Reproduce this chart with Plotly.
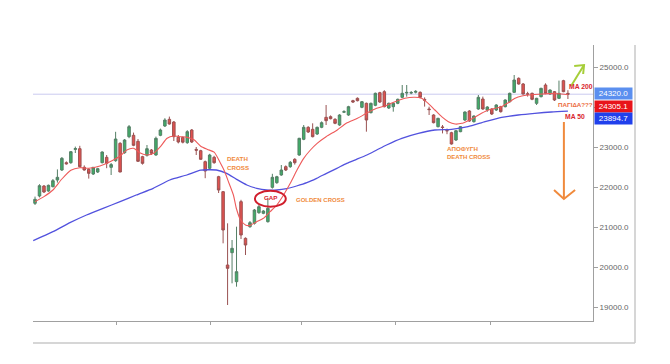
import plotly.graph_objects as go

# ---------------- data ----------------
idx = list(range(120))
opens = [21592, 21775, 22025, 21900, 22008, 22175, 22425, 22608, 22608, 22940,
         22958, 22492, 22442, 22325, 22375, 22608, 22742, 22492, 22658, 23092,
         22858, 23258, 23292, 23142, 22758, 22792, 22925, 22800, 23292, 23525,
         23692, 23625, 23242, 23240, 23108, 23425, 22940, 22908, 22633, 22467,
         22742, 22258, 21883, 20050, 20358, 19633, 21633, 20717, 21008, 21092,
         21358, 21342, 21133, 21992, 22108, 22300, 22508, 22508, 22692, 22800,
         23192, 23492, 23442, 23325, 23492, 23742, 23758, 23692, 23550, 23870,
         23800, 24158, 24217, 23992, 24092, 23858, 24042, 24358, 24383, 23975,
         24008, 24092, 24242, 24350, 24350, 24370, 24367, 24190, 23950, 23800,
         23508, 23500, 23415, 23358, 23175, 23383, 23675, 23900, 23633, 23950,
         24200, 23925, 23950, 23925, 24008, 24008, 24133, 24367, 24717, 24575,
         24330, 24342, 24092, 24258, 24550, 24325, 24383, 24217, 24658, 24340]
highs = [21760, 22070, 22050, 22060, 22200, 22440, 22750, 22640, 22900, 23010,
         23030, 22540, 22470, 22500, 22480, 22890, 22800, 22600, 23380, 23120,
         23200, 23550, 23360, 23200, 22780, 23050, 22950, 23260, 23460, 23720,
         23760, 23650, 23300, 23260, 23420, 23450, 23000, 22930, 22660, 22830,
         22780, 22280, 21900, 21092, 20675, 21008, 21680, 20740, 21150, 21450,
         21550, 21420, 21717, 22330, 22280, 22550, 22540, 22650, 22720, 23230,
         23550, 23520, 23592, 23510, 23640, 24050, 23790, 23720, 23820, 23920,
         24030, 24180, 24240, 24150, 24110, 24110, 24360, 24380, 24420, 24110,
         24110, 24210, 24550, 24550, 24400, 24420, 24390, 24240, 24008, 23820,
         23730, 23550, 23460, 23380, 23420, 23520, 23890, 23920, 23790, 24300,
         24260, 24020, 23970, 24070, 24030, 24190, 24360, 24800, 24740, 24600,
         24380, 24360, 24230, 24480, 24592, 24440, 24400, 24660, 24680, 24420]
lows = [21550, 21740, 21850, 21880, 21990, 22110, 22400, 22560, 22580, 22850,
        22490, 22410, 22210, 22300, 22350, 22590, 22470, 22300, 22630, 22370,
        22830, 23220, 23020, 22630, 22560, 22760, 22800, 22780, 23270, 23500,
        23560, 23150, 23090, 23090, 23080, 23100, 22800, 22680, 22220, 22440,
        22580, 21850, 20592, 19050, 19592, 19508, 20700, 20300, 20980, 21060,
        21330, 21320, 21110, 21960, 22080, 22280, 22400, 22480, 22560, 22780,
        23170, 23350, 23240, 23300, 23470, 23550, 23690, 23570, 23530, 23850,
        23780, 24100, 24140, 23970, 23383, 23840, 24020, 24100, 23990, 23950,
        23883, 24070, 24220, 24258, 24320, 24340, 24220, 24010, 23800, 23590,
        23490, 23340, 23320, 23060, 23150, 23370, 23650, 23630, 23610, 23930,
        23930, 23880, 23800, 23900, 23860, 23990, 24110, 24350, 24560, 24310,
        24260, 24170, 24050, 24240, 24320, 24300, 24150, 24200, 24370, 24200]
closes = [21692, 22033, 21875, 22042, 22158, 22242, 22717, 22580, 22883, 22960,
          22508, 22425, 22342, 22492, 22458, 22875, 22592, 22560, 23200, 22375,
          23175, 23508, 23042, 22642, 22592, 22958, 22842, 23217, 23425, 23675,
          23575, 23258, 23125, 23120, 23383, 23125, 22920, 22692, 22400, 22800,
          22608, 21925, 20925, 19967, 20467, 19883, 20800, 20550, 21108, 21425,
          21508, 21400, 21467, 22242, 22258, 22425, 22425, 22617, 22608, 23217,
          23492, 23375, 23258, 23492, 23608, 23658, 23708, 23592, 23800, 23883,
          24008, 24125, 24158, 24133, 23675, 24092, 24342, 24125, 24008, 24092,
          24092, 24192, 24342, 24365, 24360, 24390, 24242, 24170, 23935, 23608,
          23717, 23490, 23405, 23075, 23408, 23508, 23875, 23650, 23775, 24242,
          23950, 24000, 23825, 24050, 23883, 24175, 24342, 24675, 24575, 24325,
          24320, 24192, 24217, 24467, 24342, 24425, 24175, 24342, 24383, 24320]

# short moving average (red) sampled along the chart
ma_fast_x = [0, 2, 4, 6, 8, 10, 12, 14.5, 17.5, 19, 20.5, 22, 23.5, 25, 26.5, 28,
             29.5, 31, 32.5, 34, 35.5, 37, 38.5, 40, 41.3, 42.3, 43.3, 44.3, 45,
             45.8, 47, 48, 49.5, 51, 52.5, 54, 55.5, 57, 58.5, 60, 61.5, 63, 65,
             67.5, 69.5, 72, 74, 76.3, 78.5, 80.4, 82.6, 84.8, 86.3, 87.8, 89.3,
             90.8, 92.3, 93.8, 95.3, 96.7, 98.2, 99.7, 101.2, 102.7, 104.2,
             105.7, 107.2, 108.7, 110.1, 112.4, 114.6, 116.8, 119]
ma_fast_y = [21633, 21760, 21925, 22200, 22420, 22483, 22470, 22525, 22675, 22775,
             22925, 22967, 22850, 22800, 22842, 23008, 23217, 23275, 23258, 23240,
             23180, 23020, 22940, 22870, 22620, 22400, 22100, 21800, 21450, 21200,
             21050, 21040, 21133, 21217, 21383, 21550, 21800, 22092, 22425, 22717,
             22925, 23092, 23258, 23425, 23592, 23717, 23842, 23967, 24040, 24133,
             24217, 24242, 24217, 24092, 23925, 23758, 23633, 23575, 23592, 23658,
             23742, 23842, 23925, 23967, 24008, 24108, 24217, 24275, 24300, 24320,
             24335, 24330, 24305]

# long moving average (blue)
ma_slow_x = [-0.4, 4, 7.8, 11.5, 15.2, 19, 22.6, 26.4, 30.1, 33.9, 37, 40.5, 42.8,
             45, 47.3, 49.5, 51.7, 54, 56.2, 58.4, 60.7, 62.9, 65.1, 67.4, 69.6,
             71.8, 74.1, 76.3, 78.5, 81.9, 85.6, 89.3, 93, 96.7, 100.5, 104.2,
             107.9, 111.6, 115.3, 119]
ma_slow_y = [20660, 20883, 21108, 21300, 21467, 21633, 21800, 21967, 22175, 22300,
             22420, 22425, 22342, 22192, 22050, 21967, 21925, 21925, 21958, 22025,
             22108, 22217, 22342, 22467, 22592, 22692, 22800, 22925, 23050, 23217,
             23342, 23425, 23442, 23508, 23633, 23742, 23800, 23842, 23875, 23895]

last_price = 24320.0
ma_fast_last = 24305.1
ma_slow_last = 23894.7

y_ticks = [19000, 20000, 21000, 22000, 23000, 24000, 25000]
y_tick_labels = ["19000.0", "20000.0", "21000.0", "22000.0", "23000.0", "24000.0", "25000.0"]
x_ticks = [18.3, 39.2, 59.4, 80.4, 101.6]

# ---------------- figure ----------------
fig = go.Figure()

fig.add_trace(go.Scatter(x=ma_slow_x, y=ma_slow_y, mode="lines",
                         line=dict(color="#5252DE", width=1.3, shape="spline", smoothing=0.6),
                         hoverinfo="skip", showlegend=False))
fig.add_trace(go.Scatter(x=ma_fast_x, y=ma_fast_y, mode="lines",
                         line=dict(color="#EE5A5A", width=1.1, shape="spline", smoothing=0.6),
                         hoverinfo="skip", showlegend=False))

fig.add_trace(go.Candlestick(
    x=idx, open=opens, high=highs, low=lows, close=closes,
    increasing=dict(fillcolor="#3FAE68", line=dict(color="#557F66", width=1)),
    decreasing=dict(fillcolor="#E2514E", line=dict(color="#9A5252", width=1)),
    showlegend=False))

orange = "#F08A3C"
red_txt = "#D9262E"
F = "Liberation Sans, Arial, sans-serif"

annotations = []


def txt(x, y, s, color, size, bold=True, xanchor="left"):
    annotations.append(dict(x=x, y=y, xref="x", yref="y", text=(f"<b>{s}</b>" if bold else s),
                            showarrow=False, xanchor=xanchor, yanchor="middle",
                            font=dict(color=color, size=size, family=F)))


txt(42.4, 22717, "DEATH", orange, 6.2)
txt(42.4, 22492, "CROSS", orange, 6.2)
txt(57.8, 21675, "GOLDEN CROSS", orange, 6.0)
txt(52.6, 21733, "GAP", red_txt, 6.2, xanchor="center")
txt(91.5, 22975, "ΑΠΟΦΥΓΗ", orange, 6.2)
txt(91.5, 22750, "DEATH CROSS", orange, 6.0)
txt(118.8, 24525, "MA 200", red_txt, 6.8)
txt(116.3, 24075, "ΠΑΓΙΔΑ???", "#EC6B3C", 6.2)
txt(117.9, 23775, "MA 50", red_txt, 6.8)

# right-side value labels
for val, col, ysh in [(last_price, "#5B8FEF", 1), (ma_fast_last, "#E8141A", -11.4),
                      (ma_slow_last, "#2040EC", -7.1)]:
    annotations.append(dict(x=1, y=val, xref="paper", yref="y", text=f"{val:.1f}",
                            showarrow=False, xanchor="left", yanchor="middle",
                            xshift=1, yshift=ysh, width=37, height=11, bgcolor=col,
                            font=dict(color="white", size=8, family=F), borderpad=0))

shapes = [
    # last price line
    dict(type="line", xref="paper", yref="y", x0=0, x1=1, y0=last_price, y1=last_price,
         line=dict(color="#CACAF0", width=1), layer="below"),
    # GAP ellipse
    dict(type="circle", xref="x", yref="y", x0=49.1, x1=56.0, y0=21508, y1=21908,
         line=dict(color="#D01E2C", width=2)),
    # orange down arrow
    dict(type="path", xref="x", yref="y", path="M 118.1 23625 L 118.1 21700",
         line=dict(color=orange, width=2)),
    dict(type="path", xref="x", yref="y", path="M 115.9 21925 L 118.1 21700 L 120.6 21925",
         line=dict(color=orange, width=2)),
    # green up arrow
    dict(type="path", xref="x", yref="y", path="M 119.7 24525 L 122.6 25050",
         line=dict(color="#A6CE39", width=2)),
    dict(type="path", xref="x", yref="y", path="M 120.4 25025 L 122.6 25050 L 122.4 24825",
         line=dict(color="#A6CE39", width=2)),
    # outer frame (price / time panes)
    dict(type="line", xref="paper", yref="paper", x0=1.075, x1=1.075, y0=-0.0797, y1=1,
         line=dict(color="#C8C8C8", width=1.5)),
    dict(type="line", xref="paper", yref="paper", x0=0, x1=1.075, y0=-0.0797, y1=-0.0797,
         line=dict(color="#C8C8C8", width=1.5)),
]

fig.update_layout(
    width=670, height=364,
    margin=dict(l=33, r=77, t=45, b=43),
    paper_bgcolor="white", plot_bgcolor="white",
    showlegend=False,
    boxgap=0.2,
    annotations=annotations,
    shapes=shapes,
    font=dict(family=F),
    xaxis=dict(range=[-0.45, 124.6], rangeslider=dict(visible=False),
               showgrid=False, zeroline=False, showline=True, linecolor="#A0A0A0",
               linewidth=1, ticks="outside", ticklen=3, tickcolor="#A0A0A0",
               tickvals=x_ticks, showticklabels=False),
    yaxis=dict(range=[18650, 25550], side="right", showgrid=False, zeroline=False,
               showline=True, linecolor="#A0A0A0", linewidth=1,
               ticks="outside", ticklen=4, tickcolor="#A0A0A0",
               tickvals=y_ticks, ticktext=y_tick_labels,
               tickfont=dict(size=8, color="#666666", family=F)),
)

fig.write_html("out.html")
